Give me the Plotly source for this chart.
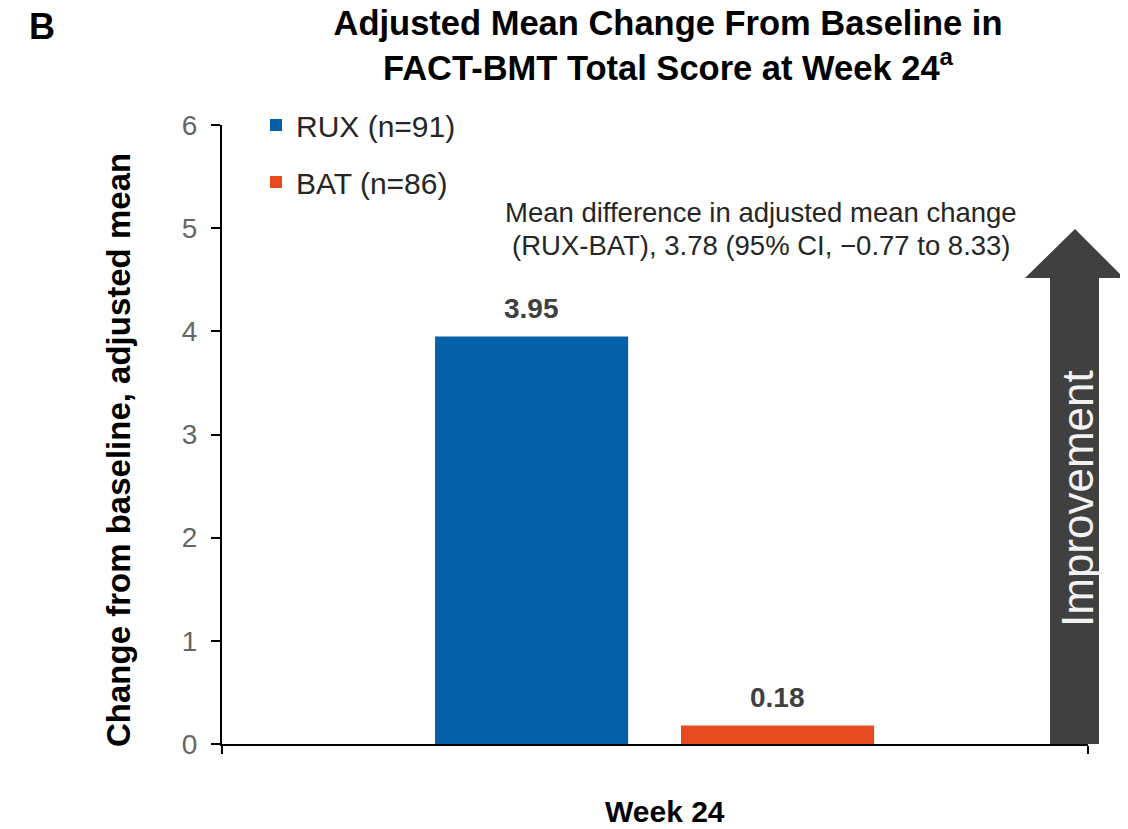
import plotly.graph_objects as go

# ---- data ----
categories = ["Week 24"]
series_names = ["RUX (n=91)", "BAT (n=86)"]
rux_values = [3.95]
bat_values = [0.18]
y_ticks = [0, 1, 2, 3, 4, 5, 6]

# ---- styles ----
colors = ["#0560A8", "#E64A1E"]
bar_width = 0.223
bar_offsets = [-0.254, 0.030]
FONT = "Liberation Sans, Arial, sans-serif"

# page body has an 8px margin, so the figure is sized to the visible area
W, H = 1120, 821
ML, MR, MT, MB = 214, 40, 117, 85
plot_w, plot_h = W - ML - MR, H - MT - MB


def px(xr):  # reference x pixel -> plot-area paper x
    return (xr - 8 - ML) / plot_w


def py(yr):  # reference y pixel -> plot-area paper y
    return (H - MB - (yr - 8)) / plot_h


fig = go.Figure()
for name, vals, col, off, grp in zip(series_names, [rux_values, bat_values], colors, bar_offsets, ["g1", "g2"]):
    fig.add_trace(go.Bar(
        x=categories, y=vals, name=name, marker=dict(color=col, line=dict(width=0)),
        width=bar_width, offset=off, legendgroup=grp, hoverinfo="skip",
    ))
    for i, v in enumerate(vals):
        fig.add_annotation(
            x=i + off + bar_width / 2, y=v, xref="x", yref="y",
            text=f"<b>{v:.2f}</b>", showarrow=False, yshift=28, yanchor="middle",
            font=dict(family=FONT, size=28, color="#404040"),
        )

# improvement arrow (paper coords)
ax = [px(1050), px(1025), px(1075), px(1124), px(1099)]
ay_base, ay_tip = py(278), py(229)
arrow_path = (f"M {ax[0]} 0 L {ax[0]} {ay_base} L {ax[1]} {ay_base} L {ax[2]} {ay_tip} "
              f"L {ax[3]} {ay_base} L {ax[4]} {ay_base} L {ax[4]} 0 Z")
fig.add_shape(type="path", path=arrow_path, xref="paper", yref="paper",
              fillcolor="#404040", line=dict(width=0), layer="below")
fig.add_annotation(x=px(1077), y=py(499), xref="paper", yref="paper", text="Improvement",
                   textangle=-90, showarrow=False, xanchor="center", yanchor="middle",
                   font=dict(family=FONT, size=44, color="#F2F2F2"))

note_lines = ["Mean difference in adjusted mean change",
              "(RUX-BAT), 3.78 (95% CI, \u22120.77 to 8.33)"]
for line, yr in zip(note_lines, [213, 245]):
    fig.add_annotation(x=px(761), y=py(yr), xref="paper", yref="paper", text=line,
                       showarrow=False, xanchor="center", yanchor="middle",
                       font=dict(family=FONT, size=27.5, color="#262626"))

fig.add_annotation(x=px(42), y=py(27), xref="paper", yref="paper",
                   text="<b>B</b>", showarrow=False, xanchor="center", yanchor="middle",
                   font=dict(family=FONT, size=36, color="black"))

fig.add_annotation(x=px(665), y=py(812), xref="paper", yref="paper",
                   text="<b>Week 24</b>", showarrow=False, xanchor="center", yanchor="middle",
                   font=dict(family=FONT, size=30, color="black"))

# y-axis title
fig.add_annotation(x=px(118), y=py(450), xref="paper", yref="paper",
                   text="<b>Change from baseline, adjusted mean</b>", textangle=-90,
                   showarrow=False, xanchor="center", yanchor="middle",
                   font=dict(family=FONT, size=33, color="black"))

fig.update_layout(
    width=W, height=H,
    margin=dict(l=ML, r=MR, t=MT, b=MB),
    plot_bgcolor="white", paper_bgcolor="white",
    barmode="overlay",
    title=dict(text="<b>Adjusted Mean Change From Baseline in<br>FACT-BMT Total Score at Week 24<sup>a</sup></b>",
               x=(668 - 8) / W, xanchor="center", y=1 - 27 / H, yanchor="middle", yref="container",
               font=dict(family=FONT, size=34.5, color="black")),
    legend=dict(x=px(256), y=py(99), xanchor="left", yanchor="top", traceorder="grouped",
                tracegroupgap=15, bgcolor="rgba(0,0,0,0)", itemwidth=30,
                font=dict(family=FONT, size=30, color="#262626")),
    xaxis=dict(type="category", range=[-0.5, 0.5], showticklabels=False, tickson="boundaries",
               ticks="outside", ticklen=8, tickwidth=2, tickcolor="black",
               showline=True, linecolor="black", linewidth=2, showgrid=False, zeroline=False),
    yaxis=dict(range=[0, 6], tickvals=y_ticks, ticks="outside", ticklen=9, tickwidth=2,
               tickcolor="black", showline=True, linecolor="black", linewidth=2,
               showgrid=False, zeroline=False, ticklabelstandoff=8,
               tickfont=dict(family=FONT, size=28, color="#666666")),
)

fig.write_html("out.html")
